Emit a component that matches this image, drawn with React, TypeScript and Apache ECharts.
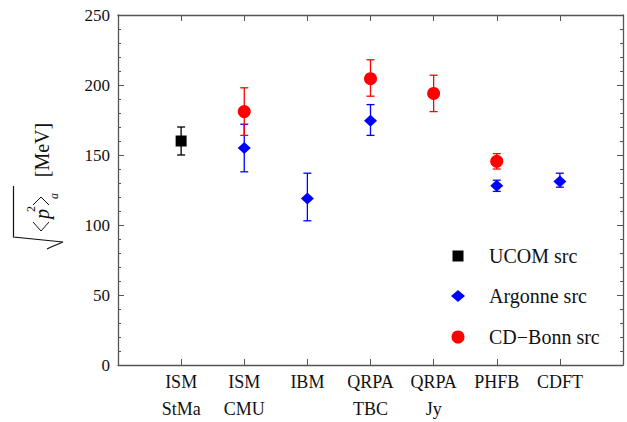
import React, { useEffect, useRef } from "react";
import * as echarts from "echarts";

const categories = ["ISM\nStMa", "ISM\nCMU", "IBM", "QRPA\nTBC", "QRPA\nJy", "PHFB", "CDFT"];
const yTicks = [0, 50, 100, 150, 200, 250];

const ucomPos = [1];
const ucomVal = [160];
const ucomLow = [150];
const ucomHigh = [170];

const argonnePos = [2, 3, 4, 6, 7];
const argonneVal = [155, 119, 174.5, 128, 131];
const argonneLow = [138, 103, 164, 124, 127];
const argonneHigh = [172, 137, 186, 132, 137];

const bonnPos = [2, 4, 5, 6];
const bonnVal = [181, 204.5, 194, 145.5];
const bonnLow = [164, 192, 181, 140];
const bonnHigh = [198, 218, 207, 151];

const legendNames = ["UCOM src", "Argonne src", "CD\u2212Bonn src"];

const FAMILY = "Liberation Serif";
const AXIS_COLOR = "#555";
const TEXT = "#111";

function errorSeries(pos: number[], low: number[], high: number[], color: string) {
  return {
    type: "custom",
    data: pos.map((p, i) => [p, low[i], high[i]]),
    encode: { x: 0, y: [1, 2] },
    z: 2,
    renderItem: (_params: any, api: any) => {
      const x = api.value(0);
      const a = api.coord([x, api.value(1)]);
      const b = api.coord([x, api.value(2)]);
      const h = 4;
      const style = { stroke: color, lineWidth: 1.3 };
      return {
        type: "group",
        children: [
          { type: "line", shape: { x1: a[0], y1: a[1], x2: b[0], y2: b[1] }, style },
          { type: "line", shape: { x1: a[0] - h, y1: a[1], x2: a[0] + h, y2: a[1] }, style },
          { type: "line", shape: { x1: b[0] - h, y1: b[1], x2: b[0] + h, y2: b[1] }, style },
        ],
      };
    },
  };
}

function pointSeries(name: string, pos: number[], val: number[], symbol: string, size: any, color: string) {
  return {
    type: "scatter",
    name,
    data: pos.map((p, i) => [p, val[i]]),
    symbol,
    symbolSize: size,
    itemStyle: { color, opacity: 1 },
    z: 3,
  };
}

function rotText(text: string, x: number, y: number, size: number, italic = false) {
  return {
    type: "text",
    x,
    y,
    rotation: Math.PI / 2,
    style: {
      text,
      font: `${italic ? "italic " : ""}${size}px '${FAMILY}'`,
      fill: TEXT,
      align: "center",
      verticalAlign: "middle",
    },
  };
}

export default function App() {
  const ref = useRef<HTMLDivElement>(null);
  useEffect(() => {
    if (!ref.current) return;
    const chart = echarts.init(ref.current, undefined, { renderer: "svg" });
    const xBase = {
      type: "value",
      min: 0,
      max: 8,
      interval: 1,
      axisLine: { show: true, onZero: false, lineStyle: { color: AXIS_COLOR, width: 1.3 } },
      axisTick: { show: true, inside: true, length: 6, lineStyle: { color: AXIS_COLOR, width: 1 } },
      splitLine: { show: false },
    };
    const yBase = {
      type: "value",
      min: 0,
      max: 250,
      interval: 50,
      axisLine: { show: true, onZero: false, lineStyle: { color: AXIS_COLOR, width: 1.3 } },
      axisTick: { show: true, inside: true, length: 6, lineStyle: { color: AXIS_COLOR, width: 1 } },
      minorTick: { show: true, splitNumber: 5, length: 3, lineStyle: { color: AXIS_COLOR, width: 1 } },
      splitLine: { show: false },
    };
    const legendY = [256, 296, 337];
    const legendX = 458;
    const bracketStyle = { stroke: TEXT, lineWidth: 1, fill: null };
    chart.setOption({
      animation: false,
      grid: { left: 118, right: 4, top: 15, bottom: 54, containLabel: false },
      xAxis: [
        {
          ...xBase,
          position: "bottom",
          axisLabel: {
            show: true,
            margin: 3,
            fontFamily: FAMILY,
            fontSize: 18,
            color: TEXT,
            lineHeight: 27,
            formatter: (v: number) => (v >= 1 && v <= categories.length ? categories[v - 1] : ""),
          },
        },
        { ...xBase, position: "top", axisLabel: { show: false } },
      ],
      yAxis: [
        {
          ...yBase,
          position: "left",
          axisLabel: {
            show: true,
            margin: 8,
            fontFamily: FAMILY,
            fontSize: 17,
            color: TEXT,
            formatter: (v: number) => (yTicks.includes(v) ? String(v) : ""),
          },
        },
        { ...yBase, position: "right", axisLabel: { show: false } },
      ],
      series: [
        errorSeries(ucomPos, ucomLow, ucomHigh, "#000000"),
        pointSeries(legendNames[0], ucomPos, ucomVal, "rect", 11, "#000000"),
        errorSeries(argonnePos, argonneLow, argonneHigh, "#0000ff"),
        pointSeries(legendNames[1], argonnePos, argonneVal, "diamond", [13, 12], "#0000ff"),
        errorSeries(bonnPos, bonnLow, bonnHigh, "#ff0000"),
        pointSeries(legendNames[2], bonnPos, bonnVal, "circle", 13, "#ff0000"),
      ],
      graphic: [
        // y-axis title: radical sign
        {
          type: "polyline",
          shape: { points: [[47, 249], [50, 247.5], [63, 242], [13.5, 237], [13.5, 186]] },
          style: { stroke: TEXT, lineWidth: 1.2, fill: null },
        },
        // angle brackets
        { type: "polyline", shape: { points: [[33, 222], [41, 231], [49, 222]] }, style: bracketStyle },
        { type: "polyline", shape: { points: [[33, 205], [41, 197], [49, 205]] }, style: bracketStyle },
        rotText("p", 42, 214, 20, true),
        rotText("2", 31, 209, 12),
        rotText("a", 54, 196, 12, true),
        rotText("[MeV]", 42, 150, 20),
        // legend
        {
          type: "rect",
          shape: { x: legendX - 5.5, y: legendY[0] - 5.5, width: 11, height: 11 },
          style: { fill: "#000000" },
        },
        {
          type: "polygon",
          shape: { points: [[legendX, legendY[1] - 6], [legendX + 7, legendY[1]], [legendX, legendY[1] + 6], [legendX - 7, legendY[1]]] },
          style: { fill: "#0000ff" },
        },
        {
          type: "circle",
          shape: { cx: legendX, cy: legendY[2], r: 6.5 },
          style: { fill: "#ff0000" },
        },
        ...legendNames.map((n, i) => ({
          type: "text",
          x: 489,
          y: legendY[i],
          style: { text: n, font: `20px '${FAMILY}'`, fill: TEXT, align: "left", verticalAlign: "middle" },
        })),
      ],
    });
    return () => chart.dispose();
  }, []);
  return (
    <div
      ref={ref}
      style={{ position: "fixed", left: 0, top: 0, width: 627, height: 422, background: "#fff" }}
    />
  );
}
